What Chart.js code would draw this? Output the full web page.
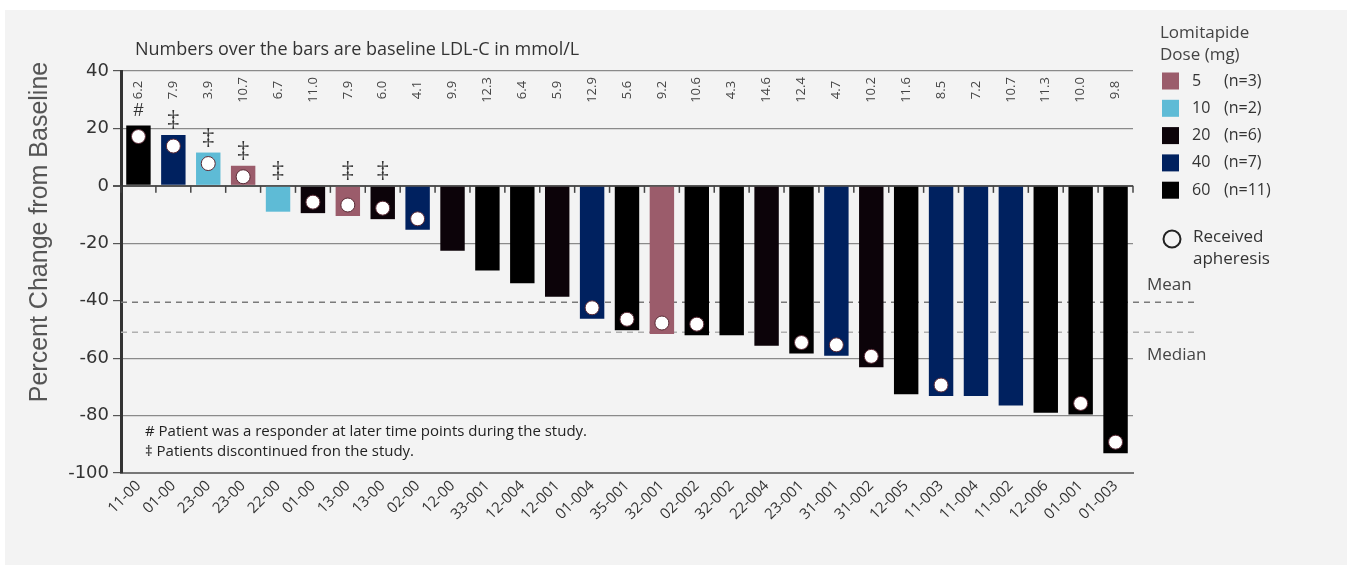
<!DOCTYPE html>
<html>
<head>
<meta charset="utf-8">
<script src="https://cdn.jsdelivr.net/npm/chart.js@4"></script>
<style>
  html, body { margin: 0; padding: 0; background: #fff; }
  #wrap { width: 1353px; height: 573px; }
</style>
</head>
<body>
<div id="wrap"><canvas id="chart" width="1353" height="573"></canvas></div>
<script>
// Patient IDs along the x axis
const patients = ['11-00', '01-00', '23-00', '23-00', '22-00', '01-00', '13-00', '13-00', '02-00', '12-00',
  '33-001', '12-004', '12-001', '01-004', '35-001', '32-001', '02-002', '32-002', '22-004', '23-001',
  '31-001', '31-002', '12-005', '11-003', '11-004', '11-002', '12-006', '01-001', '01-003'];
// Percent change of LDL-C from baseline
const changes = [21, 17.7, 11.6, 7, -9, -9.5, -10.5, -11.6, -15.3, -22.6,
  -29.5, -33.9, -38.6, -46.3, -50.3, -51.6, -52, -52, -55.7, -58.4,
  -59.2, -63.2, -72.6, -73.2, -73.2, -76.5, -79, -79.6, -93.1];
// Lomitapide dose (mg) for each patient
const doses = [60, 40, 10, 5, 10, 20, 5, 20, 40, 20,
  60, 60, 20, 40, 60, 5, 60, 60, 20, 60,
  40, 20, 60, 40, 40, 40, 60, 60, 60];
// Baseline LDL-C, mmol/L (printed over the bars)
const baselineLdl = ['6.2', '7.9', '3.9', '10.7', '6.7', '11.0', '7.9', '6.0', '4.1', '9.9',
  '12.3', '6.4', '5.9', '12.9', '5.6', '9.2', '10.6', '4.3', '14.6', '12.4',
  '4.7', '10.2', '11.6', '8.5', '7.2', '10.7', '11.3', '10.0', '9.8'];
// 1 = received apheresis
const apheresis = [1, 1, 1, 1, 0, 1, 1, 1, 1, 0,
  0, 0, 0, 1, 1, 1, 1, 0, 0, 1,
  1, 1, 0, 1, 0, 0, 0, 1, 1];
// footnote markers
const markers = ['#', '\u2021', '\u2021', '\u2021', '\u2021', '', '\u2021', '\u2021', '', '',
  '', '', '', '', '', '', '', '', '', '',
  '', '', '', '', '', '', '', '', ''];

const doseLevels = [5, 10, 20, 40, 60];
const doseCounts = [3, 2, 6, 7, 11];
const doseColors = ['#9b5c6b', '#5ebbd6', '#0c0309', '#00215f', '#000000'];

const meanChange = -40.5;
const medianChange = -51;

const colorFor = d => doseColors[doseLevels.indexOf(d)];
const FONT = "'Open Sans', sans-serif";

const panelPlugin = {
  id: 'panel',
  beforeDraw(chart) {
    const ctx = chart.ctx;
    ctx.save();
    ctx.fillStyle = '#ffffff';
    ctx.fillRect(0, 0, chart.width, chart.height);
    ctx.fillStyle = '#f3f3f3';
    ctx.fillRect(5, 10, 1342, 555);
    ctx.restore();
  }
};

const annotationsPlugin = {
  id: 'annotations',
  beforeDatasetsDraw(chart) {
    const { ctx, chartArea } = chart;
    const x = chart.scales.x, y = chart.scales.y;
    ctx.save();
    // mean / median dashed lines
    ctx.lineWidth = 1.5;
    ctx.setLineDash([6, 5]);
    ctx.strokeStyle = '#7a7a7a';
    let yy = y.getPixelForValue(meanChange);
    ctx.beginPath(); ctx.moveTo(chartArea.left, yy); ctx.lineTo(1195, yy); ctx.stroke();
    ctx.strokeStyle = '#b0b0b0';
    yy = y.getPixelForValue(medianChange);
    ctx.beginPath(); ctx.moveTo(chartArea.left, yy); ctx.lineTo(1195, yy); ctx.stroke();
    ctx.setLineDash([]);
    // category ticks hanging from the zero line
    const y0 = y.getPixelForValue(0);
    const half = (x.getPixelForValue(1) - x.getPixelForValue(0)) / 2;
    ctx.strokeStyle = '#444';
    ctx.lineWidth = 1.5;
    for (let i = 0; i <= patients.length; i++) {
      const xx = i < patients.length ? x.getPixelForValue(i) - half : chartArea.right;
      ctx.beginPath(); ctx.moveTo(xx, y0); ctx.lineTo(xx, y0 + 7); ctx.stroke();
    }
    ctx.restore();
  },
  afterDatasetsDraw(chart) {
    const { ctx, chartArea } = chart;
    const y = chart.scales.y;
    const y0 = y.getPixelForValue(0);
    const bars = chart.getDatasetMeta(0).data;
    ctx.save();
    bars.forEach((bar, i) => {
      // apheresis circles
      if (apheresis[i]) {
        const dir = changes[i] >= 0 ? 1 : -1;
        ctx.beginPath();
        ctx.arc(bar.x, bar.y + dir * 11, 7, 0, Math.PI * 2);
        ctx.fillStyle = '#ffffff';
        ctx.fill();
        ctx.lineWidth = 1;
        ctx.strokeStyle = '#5a2a35';
        ctx.stroke();
      }
      // markers
      if (markers[i]) {
        const top = Math.min(bar.y, y0);
        ctx.fillStyle = '#333';
        ctx.textAlign = 'center';
        ctx.textBaseline = 'middle';
        ctx.font = markers[i] === '#' ? "18px 'Liberation Sans'" : "24px 'Liberation Serif'";
        ctx.fillText(markers[i], bar.x, top - 15);
      }
      // baseline LDL-C numbers
      ctx.save();
      ctx.translate(bar.x, chartArea.top + 19);
      ctx.rotate(-Math.PI / 2);
      ctx.font = '13px ' + FONT;
      ctx.fillStyle = '#444';
      ctx.textAlign = 'center';
      ctx.textBaseline = 'middle';
      ctx.fillText(baselineLdl[i], 0, 0);
      ctx.restore();
    });

    // y axis title
    ctx.save();
    ctx.translate(40, 232);
    ctx.rotate(-Math.PI / 2);
    ctx.textAlign = 'center';
    ctx.textBaseline = 'middle';
    ctx.fillStyle = '#555';
    ctx.font = "25px 'Liberation Sans'";
    ctx.fillText('Percent Change from Baseline', 0, 0);
    ctx.restore();

    ctx.textAlign = 'left';
    ctx.textBaseline = 'middle';
    ctx.fillStyle = '#333';
    ctx.font = '18px ' + FONT;
    ctx.fillText('Numbers over the bars are baseline LDL-C in mmol/L', 135, 50);

    // footnotes
    ctx.font = '15px ' + FONT;
    ctx.fillStyle = '#222';
    ctx.fillText('# Patient was a responder at later time points during the study.', 145, 432);
    ctx.fillText('\u2021 Patients discontinued fron the study.', 145, 452);

    // legend
    ctx.fillStyle = '#444';
    ctx.font = '17px ' + FONT;
    ctx.fillText('Lomitapide', 1160, 33);
    ctx.fillText('Dose (mg)', 1160, 55);
    ctx.font = '16px ' + FONT;
    doseLevels.forEach((d, k) => {
      const cy = 81 + k * 27.3;
      ctx.fillStyle = doseColors[k];
      ctx.fillRect(1162, cy - 8.5, 17, 17);
      ctx.fillStyle = '#333';
      ctx.fillText(String(d), 1192, cy);
      ctx.fillText('(n=' + doseCounts[k] + ')', 1224, cy);
    });
    ctx.beginPath();
    ctx.arc(1172, 239, 8.5, 0, Math.PI * 2);
    ctx.lineWidth = 2;
    ctx.strokeStyle = '#222';
    ctx.stroke();
    ctx.fillStyle = '#333';
    ctx.font = '17px ' + FONT;
    ctx.fillText('Received', 1193, 237);
    ctx.fillText('apheresis', 1193, 259);

    ctx.fillStyle = '#444';
    ctx.fillText('Mean', 1147, 285);
    ctx.fillText('Median', 1147, 355);
    ctx.restore();
  }
};

new Chart(document.getElementById('chart'), {
  type: 'bar',
  data: {
    labels: patients,
    datasets: [{
      data: changes,
      backgroundColor: doses.map(colorFor),
      barPercentage: 0.7,
      categoryPercentage: 1.0
    }]
  },
  options: {
    responsive: false,
    animation: false,
    devicePixelRatio: 1,
    layout: { padding: { left: 0, top: 71, right: 220, bottom: 0 } },
    plugins: {
      legend: { display: false },
      tooltip: { enabled: false }
    },
    scales: {
      x: {
        grid: { display: true, drawOnChartArea: false, drawTicks: false },
        border: { color: '#777', width: 2 },
        ticks: {
          minRotation: 45,
          maxRotation: 45,
          padding: 4,
          color: '#333',
          font: { family: 'Open Sans', size: 15 }
        },
        afterFit(scale) { scale.height = 100; }
      },
      y: {
        min: -100,
        max: 40,
        ticks: {
          stepSize: 20,
          color: '#333',
          padding: 4,
          font: { family: 'DejaVu Sans', size: 18 }
        },
        grid: {
          color: c => c.tick.value === -40 ? 'rgba(0,0,0,0)' : (c.tick.value === 0 ? '#555' : '#8a8a8a'),
          lineWidth: c => c.tick.value === 0 ? 2 : 1.2,
          tickColor: '#555',
          tickLength: 8
        },
        border: { color: '#333', width: 3 },
        afterFit(scale) { scale.width = 121; }
      }
    }
  },
  plugins: [panelPlugin, annotationsPlugin]
});
</script>
</body>
</html>
